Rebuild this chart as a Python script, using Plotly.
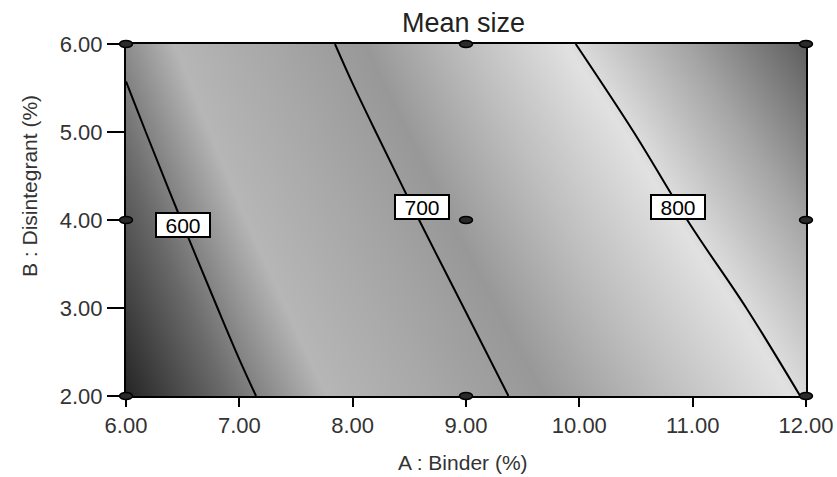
import plotly.graph_objects as go

# ---- data ----
binder = [6, 7, 8, 9, 10, 11, 12]            # A : Binder (%)
disintegrant = [2, 3, 4, 5, 6]               # B : Disintegrant (%)
# estimated mean size response along each disintegrant level
mean_size_b2 = [544.6, 593.2, 639.3, 685.5, 724.2, 762.9, 802.0]
mean_size_b3 = [560.1, 609.5, 656.4, 700.8, 742.9, 782.4, 819.6]
mean_size_b4 = [575.6, 625.8, 673.5, 718.7, 761.6, 801.9, 839.9]
mean_size_b5 = [591.1, 642.1, 690.6, 736.6, 780.3, 821.4, 860.2]
mean_size_b6 = [606.6, 658.4, 707.7, 754.5, 801.5, 840.9, 880.5]
contour_levels = [600, 700, 800]
x_tick_labels = ["6.00", "7.00", "8.00", "9.00", "10.00", "11.00", "12.00"]
y_tick_labels = ["2.00", "3.00", "4.00", "5.00", "6.00"]
design_binder = [6, 6, 6, 9, 9, 9, 12, 12, 12]
design_disint = [2, 4, 6, 2, 4, 6, 2, 4, 6]

z = [mean_size_b2, mean_size_b3, mean_size_b4, mean_size_b5, mean_size_b6]

# label anchor positions (layout only)
label_pos = [(6.50, 3.94), (8.61, 4.15), (10.87, 4.15)]

X_RANGE = [binder[0], binder[-1]]
Y_RANGE = [disintegrant[0], disintegrant[-1]]

FONT = "Liberation Sans, Arial, sans-serif"

gray_scale = [
    [0.0, "rgb(38,38,38)"],
    [0.125, "rgb(105,105,105)"],
    [0.25, "rgb(182,182,182)"],
    [0.375, "rgb(168,168,168)"],
    [0.5, "rgb(152,152,152)"],
    [0.625, "rgb(190,190,190)"],
    [0.75, "rgb(225,225,225)"],
    [0.875, "rgb(165,165,165)"],
    [1.0, "rgb(95,95,95)"],
]

fig = go.Figure()
fig.add_trace(go.Heatmap(
    x=binder, y=disintegrant, z=z, zsmooth="best",
    colorscale=gray_scale, zmin=545, zmax=880, showscale=False,
    hoverinfo="skip",
))
fig.add_trace(go.Contour(
    x=binder, y=disintegrant, z=z,
    contours=dict(start=contour_levels[0], end=contour_levels[-1],
                  size=contour_levels[1] - contour_levels[0],
                  coloring="none", showlabels=False),
    line=dict(color="black", width=2),
    showscale=False, hoverinfo="skip",
))

for lv, (lx, ly) in zip(contour_levels, label_pos):
    fig.add_annotation(
        x=lx, y=ly, xref="x", yref="y", text=str(lv), showarrow=False,
        font=dict(family=FONT, size=21, color="black"),
        bgcolor="white", bordercolor="black", borderwidth=2, borderpad=1,
        width=50, height=20,
    )

# design points (drawn in paper space so edge points are not clipped)
for bx, dy in zip(design_binder, design_disint):
    px = (bx - X_RANGE[0]) / (X_RANGE[1] - X_RANGE[0])
    py = (dy - Y_RANGE[0]) / (Y_RANGE[1] - Y_RANGE[0])
    fig.add_shape(
        type="circle", xref="paper", yref="paper",
        xsizemode="pixel", ysizemode="pixel", xanchor=px, yanchor=py,
        x0=-6.5, x1=6.5, y0=-3.5, y1=3.5,
        fillcolor="#2a2a2a", line=dict(color="black", width=1.5),
        layer="above",
    )

# titles
fig.add_annotation(x=0.496, y=1.06, xref="paper", yref="paper",
                   text="Mean size", showarrow=False,
                   font=dict(family=FONT, size=27, color="#222222"),
                   xanchor="center", yanchor="middle")
fig.add_annotation(x=0.496, y=-0.19, xref="paper", yref="paper",
                   text="A : Binder (%)", showarrow=False,
                   font=dict(family=FONT, size=21, color="#333333"),
                   xanchor="center", yanchor="middle")
fig.add_annotation(x=-0.141, y=0.597, xref="paper", yref="paper",
                   text="B : Disintegrant (%)", showarrow=False, textangle=-90,
                   font=dict(family=FONT, size=21, color="#333333"),
                   xanchor="center", yanchor="middle")

fig.update_layout(
    width=837, height=477,
    margin=dict(l=126, r=31, t=44, b=81),
    paper_bgcolor="white", plot_bgcolor="white",
    showlegend=False,
)
fig.update_xaxes(
    range=X_RANGE, tickvals=binder, ticktext=x_tick_labels,
    ticks="outside", ticklen=9, tickwidth=2, tickcolor="black",
    showline=True, linecolor="black", linewidth=2, mirror=True,
    showgrid=False, zeroline=False, automargin=False,
    tickfont=dict(family=FONT, size=22, color="#333333"),
)
fig.update_yaxes(
    range=Y_RANGE, tickvals=disintegrant, ticktext=y_tick_labels,
    ticks="outside", ticklen=17, tickwidth=2, tickcolor="black",
    showline=True, linecolor="black", linewidth=2, mirror=True,
    showgrid=False, zeroline=False, automargin=False,
    tickfont=dict(family=FONT, size=22, color="#333333"),
)

fig.write_html("out.html", config={"displayModeBar": False},
               post_script="document.body.style.margin='0';document.body.style.padding='0';")
